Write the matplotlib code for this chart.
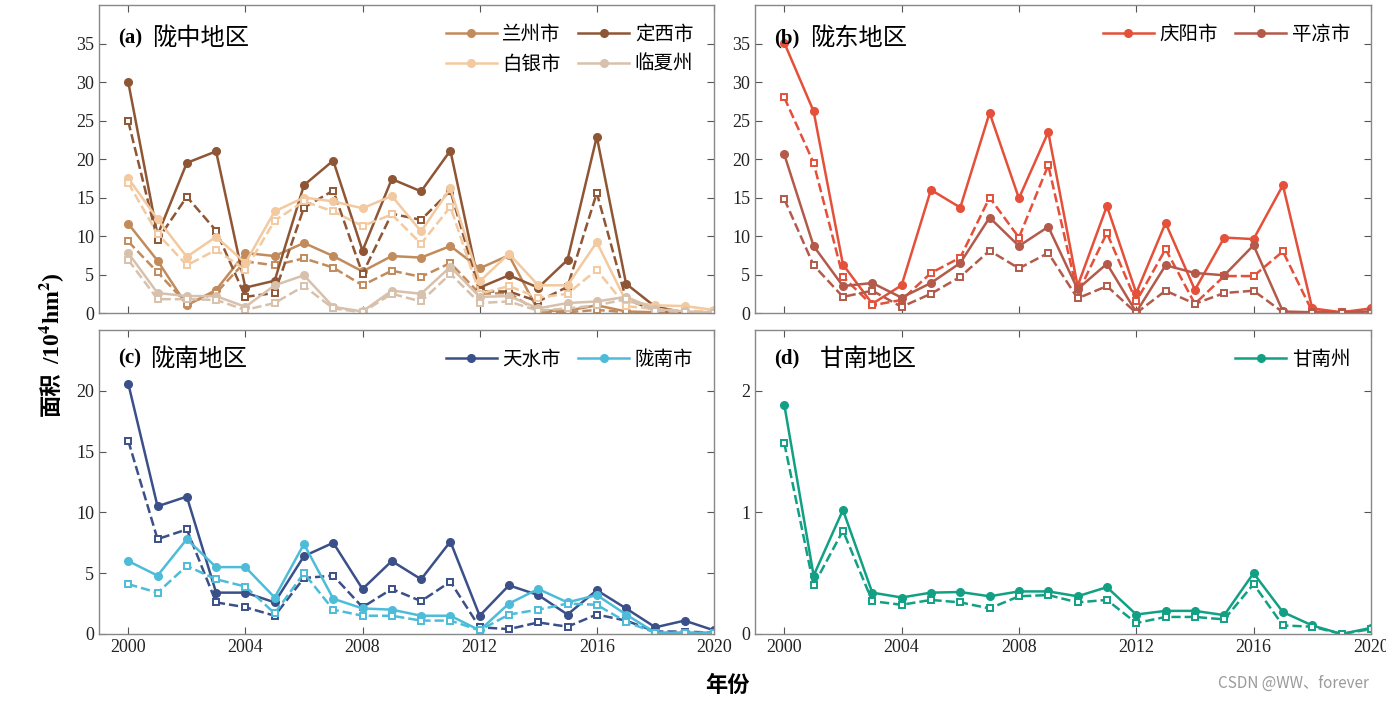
import matplotlib
matplotlib.use('Agg')
import matplotlib.pyplot as plt

anos = list(range(2000, 2021))

# (a) 陇中地区 - linha cheia = total, tracejada = parte
lanzhou = [11.6, 6.8, 1.0, 3.0, 7.8, 7.4, 9.1, 7.4, 5.4, 7.4, 7.2, 8.7, 5.8, 7.5, 0.3, 0.3, 1.0, 0.2, 0.1, 0.0, 0.0]
lanzhou_b = [9.3, 5.3, 1.2, 2.6, 6.7, 6.2, 7.1, 5.9, 3.6, 5.5, 4.7, 6.5, 2.5, 2.6, 0.2, 0.1, 0.4, 0.1, 0.0, 0.0, 0.0]
dingxi = [30.0, 10.1, 19.5, 21.0, 3.3, 4.2, 16.6, 19.8, 8.1, 17.4, 15.8, 21.1, 3.3, 4.9, 3.3, 6.9, 22.9, 3.8, 0.8, 0.1, 0.0]
dingxi_b = [24.9, 9.5, 15.1, 10.7, 2.1, 2.6, 13.7, 15.9, 5.1, 12.9, 12.1, 15.9, 2.8, 2.8, 1.5, 3.4, 15.6, 1.8, 0.3, 0.1, 0.0]
baiyin = [17.5, 12.2, 7.3, 9.9, 6.5, 13.2, 15.0, 14.5, 13.6, 15.2, 10.6, 16.2, 4.1, 7.7, 3.6, 3.6, 9.2, 1.5, 1.0, 0.9, 0.4]
baiyin_b = [16.9, 10.3, 6.2, 8.2, 5.6, 12.0, 14.5, 13.2, 11.3, 12.8, 9.0, 13.8, 2.5, 3.5, 2.0, 2.5, 5.6, 0.9, 0.5, 0.3, 0.2]
linxia = [7.8, 2.6, 2.2, 2.2, 0.8, 3.6, 4.9, 0.8, 0.2, 2.9, 2.5, 6.0, 2.1, 2.2, 0.6, 1.3, 1.5, 2.1, 0.5, 0.2, 0.1]
linxia_b = [6.9, 1.8, 1.8, 1.7, 0.4, 1.3, 3.5, 0.6, 0.1, 2.5, 1.5, 5.1, 1.3, 1.5, 0.3, 0.6, 1.0, 1.8, 0.3, 0.1, 0.0]

# (b) 陇东地区
qingyang = [35.1, 26.2, 6.3, 1.2, 3.6, 16.0, 13.7, 26.0, 14.9, 23.5, 3.5, 13.9, 2.6, 11.7, 3.0, 9.8, 9.6, 16.6, 0.6, 0.1, 0.6]
qingyang_b = [28.0, 19.5, 4.7, 1.0, 1.7, 5.2, 7.2, 15.0, 9.8, 19.2, 2.5, 10.4, 1.5, 8.3, 1.2, 4.8, 4.8, 8.0, 0.2, 0.1, 0.2]
pingliang = [20.6, 8.7, 3.5, 3.9, 2.0, 3.9, 6.5, 12.4, 8.7, 11.2, 3.1, 6.4, 0.1, 6.2, 5.2, 4.9, 8.8, 0.2, 0.1, 0.1, 0.2]
pingliang_b = [14.8, 6.2, 2.1, 2.9, 0.8, 2.5, 4.7, 8.1, 5.8, 7.8, 1.9, 3.5, 0.0, 2.9, 1.2, 2.6, 2.9, 0.1, 0.0, 0.0, 0.0]

# (c) 陇南地区
tianshui = [20.6, 10.5, 11.3, 3.4, 3.4, 2.6, 6.4, 7.5, 3.7, 6.0, 4.5, 7.6, 1.5, 4.0, 3.2, 1.6, 3.6, 2.1, 0.55, 1.1, 0.3]
tianshui_b = [15.9, 7.8, 8.6, 2.6, 2.2, 1.5, 4.6, 4.8, 2.2, 3.7, 2.7, 4.3, 0.55, 0.4, 0.95, 0.6, 1.6, 1.1, 0.2, 0.2, 0.1]
longnan = [6.0, 4.8, 7.8, 5.5, 5.5, 3.0, 7.4, 2.9, 2.1, 2.0, 1.5, 1.5, 0.3, 2.5, 3.7, 2.6, 3.2, 1.6, 0.1, 0.1, 0.1]
longnan_b = [4.1, 3.4, 5.6, 4.5, 3.9, 1.7, 5.0, 2.0, 1.5, 1.5, 1.1, 1.1, 0.3, 1.6, 2.0, 2.5, 2.4, 1.0, 0.1, 0.1, 0.1]

# (d) 甘南地区
gannan = [1.886, 0.48, 1.02, 0.34, 0.30, 0.34, 0.345, 0.31, 0.35, 0.35, 0.31, 0.385, 0.16, 0.19, 0.19, 0.155, 0.50, 0.18, 0.07, 0.0, 0.05]
gannan_b = [1.57, 0.40, 0.85, 0.27, 0.24, 0.28, 0.26, 0.21, 0.31, 0.32, 0.26, 0.28, 0.09, 0.14, 0.14, 0.12, 0.41, 0.07, 0.06, 0.0, 0.04]

plt.rcParams['font.family'] = ['Liberation Serif', 'Noto Sans CJK SC']
plt.rcParams['mathtext.fontset'] = 'stix'
plt.rcParams['axes.unicode_minus'] = False

fig = plt.figure(figsize=(13.86, 7.02), dpi=100)
ax_a = fig.add_axes([0.0714, 0.5541, 0.4437, 0.4387])
ax_b = fig.add_axes([0.5447, 0.5541, 0.4444, 0.4387])
ax_c = fig.add_axes([0.0714, 0.0969, 0.4437, 0.4330])
ax_d = fig.add_axes([0.5447, 0.0969, 0.4444, 0.4330])


def painel(ax, series, titulo, ylim, yticks, ncol, xlabels, ordem, ytit):
    linhas = []
    for nome, total, parte, cor in series:
        l, = ax.plot(anos, total, '-', color=cor, lw=1.8, marker='o', ms=5.5, label=nome)
        ax.plot(anos, parte, '--', color=cor, lw=1.8, marker='s', ms=3.8,
                mfc='white', mew=1.4)
        linhas.append(l)
    ax.set_xlim(1999, 2020)
    ax.set_ylim(*ylim)
    ax.set_yticks(yticks)
    ax.set_xticks(range(2000, 2021, 4))
    if not xlabels:
        ax.set_xticklabels([])
    ax.tick_params(direction='in', top=True, right=True, length=5,
                   color='#555555', labelsize=13, labelcolor='#222222')
    for s in ax.spines.values():
        s.set_color('#888888')
        s.set_linewidth(1.0)
    letra, nome_reg, x2 = titulo
    ax.text(0.031, ytit, letra, transform=ax.transAxes, fontsize=15,
            fontweight='bold', family='Liberation Serif', va='center')
    ax.text(x2, ytit, nome_reg, transform=ax.transAxes,
            fontsize=17.5, family='Noto Sans CJK SC', va='center')
    hs = [linhas[i] for i in ordem]
    ax.legend(handles=hs, loc='upper right', bbox_to_anchor=(0.995, 0.995), ncol=ncol,
              frameon=False, handlelength=2.6, handletextpad=0.3,
              columnspacing=0.9, labelspacing=0.45, numpoints=1,
              prop={'family': 'Noto Sans CJK SC', 'size': 14})


painel(ax_a, [('兰州市', lanzhou, lanzhou_b, '#C28B5C'),
              ('定西市', dingxi, dingxi_b, '#8E5634'),
              ('白银市', baiyin, baiyin_b, '#F3C9A0'),
              ('临夏州', linxia, linxia_b, '#D8C1AC')],
       ('(a)', '陇中地区', 0.086), (0, 40), range(0, 40, 5), 2, False, [0, 2, 1, 3], 0.893)
painel(ax_b, [('庆阳市', qingyang, qingyang_b, '#E4503A'),
              ('平凉市', pingliang, pingliang_b, '#B35A4B')],
       ('(b)', '陇东地区', 0.09), (0, 40), range(0, 40, 5), 2, False, [0, 1], 0.893)
painel(ax_c, [('天水市', tianshui, tianshui_b, '#3B5089'),
              ('陇南市', longnan, longnan_b, '#4DBCD9')],
       ('(c)', '陇南地区', 0.083), (0, 25), range(0, 25, 5), 2, True, [0, 1], 0.906)
painel(ax_d, [('甘南州', gannan, gannan_b, '#12A084')],
       ('(d)', '甘南地区', 0.105), (0, 2.5), [0, 1, 2], 1, True, [0], 0.906)

# rótulo do eixo y em duas partes (mathtext não tem fonte CJK)
fig.text(0.037, 0.408, '面积', rotation=90, fontsize=16, fontweight='bold',
         ha='center', va='bottom', family='Noto Sans CJK SC')
fig.text(0.037, 0.481, r'/10$^{\mathbf{4}}$hm$^{\mathbf{2}}$)', rotation=90,
         fontsize=17, fontweight='bold', ha='center', va='bottom')
fig.text(0.525, 0.023, '年份', fontsize=16, fontweight='bold', ha='center', va='center',
         family='Noto Sans CJK SC')
fig.text(0.988, 0.027, 'CSDN @WW、forever', fontsize=11, color='#9a9a9a',
         ha='right', va='center', family='Noto Sans CJK SC')

fig.savefig('out.png', dpi=100)
